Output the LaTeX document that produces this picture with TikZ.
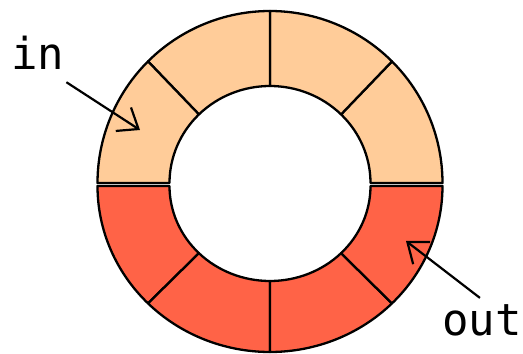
\documentclass[tikz,border=0pt]{standalone}
\usepackage{fontspec}
\setmonofont{DejaVu Sans Mono}
\usetikzlibrary{arrows.meta,positioning}
\definecolor{inbuf}{HTML}{FFCC99}
\definecolor{outbuf}{HTML}{FF6347}

\begin{document}
\begin{tikzpicture}[x=1pt,y=1pt,
    slot/.style={draw=black,line width=2.3pt,line join=round},
    lbl/.style={font=\ttfamily\fontsize{44}{44}\selectfont,inner sep=0pt},
    ptr/.style={line width=2.2pt,-{Straight Barb[length=18pt,width=28pt,line width=2.2pt]}}]
            \useasboundingbox (0,0) rectangle (523,354);

            % Ring: upper half (in) and lower half (out), 4 slots each
            \foreach \cy/\ro/\ri/\col/\a in {171/172/97/inbuf/0,168/166/95/outbuf/180}{
              \begin{scope}[shift={(270,\cy)}]
                \foreach \k in {0,45,90,135}{
                  \pgfmathsetmacro\b{\a+\k}
                  \pgfmathsetmacro\e{\a+\k+45}
                  \filldraw[slot,fill=\col] (\b:172.5 and \ro)
                    arc[start angle=\b,end angle=\e,x radius=172.5,y radius=\ro]
                    -- (\e:100.5 and \ri)
                    arc[start angle=\e,end angle=\b,x radius=100.5,y radius=\ri]
                    -- cycle;
                }
              \end{scope}
            }

            % Labels
            \node[lbl,anchor=base west] (inlbl) at (11,284) {in};
            \node[lbl,anchor=base west] (outlbl) at (442,19) {out};

            % Pointers
            \coordinate (inslot) at (140,224);
            \coordinate (outslot) at (406,113);
            \draw[ptr] ([xshift=2pt,yshift=-12pt]inlbl.south east) -- (inslot);
            \draw[ptr] ([xshift=-2pt,yshift=6pt]outlbl.north) -- (outslot);
        \end{tikzpicture}
\end{document}
